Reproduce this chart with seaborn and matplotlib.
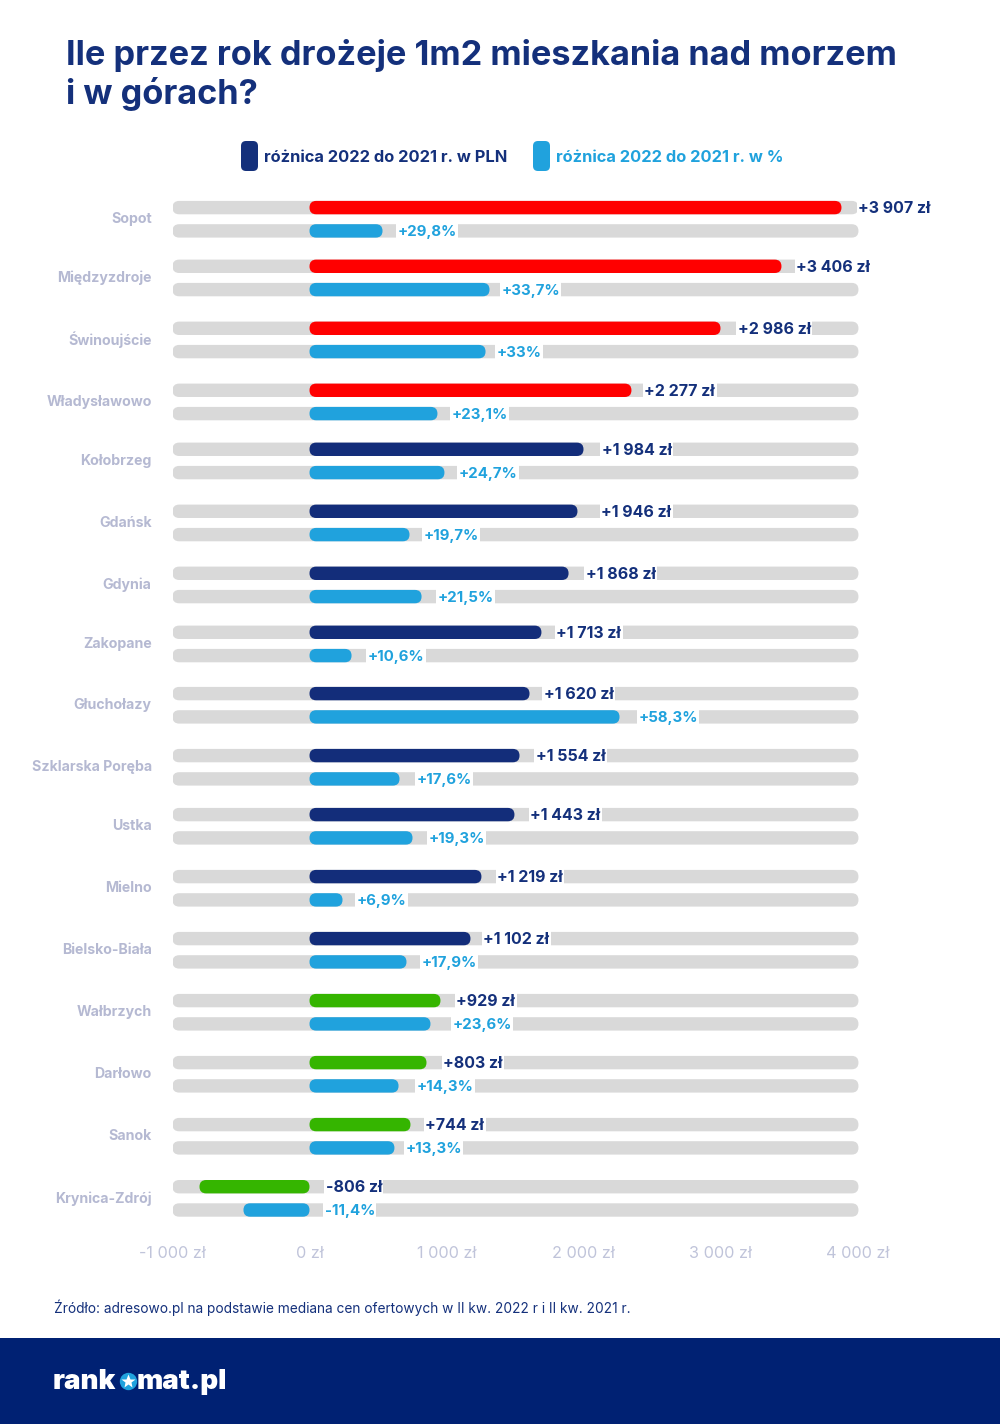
import numpy as np
import pandas as pd
import matplotlib
matplotlib.use("Agg")
import matplotlib.pyplot as plt
import seaborn as sns
from matplotlib.patches import FancyBboxPatch, Rectangle
from matplotlib.lines import Line2D

# DATA
cities = ["Sopot", "Międzyzdroje", "Świnoujście", "Władysławowo", "Kołobrzeg", "Gdańsk",
          "Gdynia", "Zakopane", "Głuchołazy", "Szklarska Poręba", "Ustka", "Mielno",
          "Bielsko-Biała", "Wałbrzych", "Darłowo", "Sanok", "Krynica-Zdrój"]
pln_labels = ["+3 907 zł", "+3 406 zł", "+2 986 zł", "+2 277 zł", "+1 984 zł", "+1 946 zł",
              "+1 868 zł", "+1 713 zł", "+1 620 zł", "+1 554 zł", "+1 443 zł", "+1 219 zł",
              "+1 102 zł", "+929 zł", "+803 zł", "+744 zł", "-806 zł"]
pct_labels = ["+29,8%", "+33,7%", "+33%", "+23,1%", "+24,7%", "+19,7%", "+21,5%", "+10,6%",
              "+58,3%", "+17,6%", "+19,3%", "+6,9%", "+17,9%", "+23,6%", "+14,3%", "+13,3%",
              "-11,4%"]
# bar lengths as drawn in the picture, on the zł axis (they do not follow the labels exactly)
pln_bars = [3883, 3445, 3000, 2350, 2000, 1956, 1891, 1693, 1606, 1533, 1496, 1255, 1175,
            956, 854, 737, -803]
pct_bars = [533, 1314, 1285, 934, 985, 730, 818, 307, 2263, 657, 752, 241, 708, 883, 650,
            620, -482]
groups = ["top"] * 4 + ["mid"] * 9 + ["low"] * 4
x_ticks = [-1000, 0, 1000, 2000, 3000, 4000]
x_tick_labels = ["-1 000 zł", "0 zł", "1 000 zł", "2 000 zł", "3 000 zł", "4 000 zł"]

# LAYOUT (pixels of the 1000x1424 picture)
row_y = [207.6, 266.3, 328.3, 390.3, 449.3, 511.3, 573.3, 632.3, 693.6, 755.6, 814.6, 876.6,
         938.6, 1000.6, 1062.6, 1124.6, 1186.7]
pct_gap = 23.3
bar_h = 13.4
x_scale = 0.137   # px per zł
# gap between bar end and its label, px
pln_gaps = [17, 15, 17, 13, 18, 24, 17, 15, 14, 16, 16, 16, 13, 16, 17, 15, 16]
pct_gaps = [15, 12, 11, 14, 14, 14, 16, 16, 19, 17, 16, 14, 15, 22, 18, 11, 15]

NAVY = "#14307b"
BLUE = "#20a2dd"
palette = {"top": "#ff0000", "mid": "#132d7a", "low": "#35b500"}

sns.set_theme(style="white")
plt.rcParams["font.family"] = ["Inter", "DejaVu Sans"]

fig = plt.figure(figsize=(10, 14.24), dpi=100)

# page layer in pixel coords
bg = fig.add_axes([0, 0, 1, 1], zorder=0)
bg.set_xlim(0, 1000)
bg.set_ylim(1424, 0)
bg.axis("off")

bg.text(66, 55, "Ile przez rok drożeje 1m2 mieszkania nad morzem", fontsize=24.7, fontweight="bold",
        color=NAVY, va="center")
bg.text(66, 94, "i w górach?", fontsize=24.7, fontweight="bold", color=NAVY, va="center")

for x0, col, txt, tx in [(241, NAVY, "różnica 2022 do 2021 r. w PLN", 264),
                         (533, BLUE, "różnica 2022 do 2021 r. w %", 556)]:
    bg.add_patch(FancyBboxPatch((x0, 141), 17, 30, boxstyle="round,pad=0,rounding_size=5",
                                fc=col, ec="none"))
    bg.text(tx, 158, txt, fontsize=11.85, fontweight="bold", color=col, va="center")

bg.text(54, 1308, "Źródło: adresowo.pl na podstawie mediana cen ofertowych w II kw. 2022 r i II kw. 2021 r.",
        fontsize=9.87, color=NAVY, va="center")

bg.add_patch(Rectangle((0, 1338), 1000, 86, fc="#002173", ec="none"))
bg.text(53, 1382, "rank", fontsize=20, fontweight="black", color="white", va="center")
bg.text(137, 1382, "mat.pl", fontsize=20, fontweight="black", color="white", va="center")
bg.add_line(Line2D([128], [1381], marker="o", ms=12.5, mfc=BLUE, mec="none"))
bg.add_line(Line2D([128], [1381], marker="*", ms=10, mfc="white", mec="none"))

# chart layer
left, right, top, bottom = 172.5, 870, 190, 1230
ax = fig.add_axes([left / 1000, 1 - bottom / 1424, (right - left) / 1000, (bottom - top) / 1424],
                  zorder=1)
ax.patch.set_alpha(0)

pln_df = pd.DataFrame({"y": row_y, "value": pln_bars, "group": groups})
pct_df = pd.DataFrame({"y": [r + pct_gap for r in row_y], "value": pct_bars})

width = bar_h / min(np.diff(row_y))
sns.barplot(data=pln_df, x="value", y="y", hue="group", palette=palette, saturation=1, orient="y",
            native_scale=True, dodge=False, width=width, errorbar=None, legend=False, ax=ax)
sns.barplot(data=pct_df, x="value", y="y", color=BLUE, saturation=1, orient="y",
            native_scale=True, width=width, errorbar=None, ax=ax)

ax.set_xlim(-1000, -1000 + (right - left) / x_scale)
ax.set_ylim(bottom, top)
ax.set_xlabel("")
ax.set_ylabel("")

# turn the bars into rounded ones, with the grey track behind them
r = bar_h / 2
for p in list(ax.patches):
    x, y, w, h = p.get_x(), p.get_y(), p.get_width(), p.get_height()
    if w == 0:
        continue
    col = p.get_facecolor()
    p.remove()
    style = f"round,pad=0,rounding_size={r / x_scale}"
    ax.add_patch(FancyBboxPatch((-1000, y), 5007, h, boxstyle=style, mutation_aspect=x_scale,
                                fc="#d9d9d9", ec="none", zorder=1))
    ax.add_patch(FancyBboxPatch((min(x, x + w), y), abs(w), h, boxstyle=style, mutation_aspect=x_scale,
                                fc=col, ec="none", zorder=2))

for yy, val, lab, gap in zip(row_y, pln_bars, pln_labels, pln_gaps):
    ax.annotate(lab, (max(val, 0), yy), xytext=(gap * 0.72, -0.7), textcoords="offset points", va="center",
                fontsize=11.5, fontweight="bold", color=NAVY, zorder=3, annotation_clip=False,
                bbox=dict(fc="white", ec="none", pad=1.0))
for yy, val, lab, gap in zip(row_y, pct_bars, pct_labels, pct_gaps):
    ax.annotate(lab, (max(val, 0), yy + pct_gap), xytext=(gap * 0.72, -0.7), textcoords="offset points",
                va="center", fontsize=10.8, fontweight="bold", color=BLUE, zorder=3,
                annotation_clip=False, bbox=dict(fc="white", ec="none", pad=1.0))

ax.set_xticks(x_ticks, x_tick_labels)
ax.set_yticks([r_ + pct_gap / 2 - 1.6 for r_ in row_y], cities)
ax.tick_params(axis="x", length=0, pad=11.3, labelsize=11.7, labelcolor="#c0c4da")
ax.tick_params(axis="y", length=0, pad=15, labelsize=10.2)
for t in ax.get_yticklabels():
    t.set_color("#b5b9d2")
    t.set_fontweight("bold")
sns.despine(ax=ax, left=True, bottom=True)

fig.savefig("out.png", dpi=100)
